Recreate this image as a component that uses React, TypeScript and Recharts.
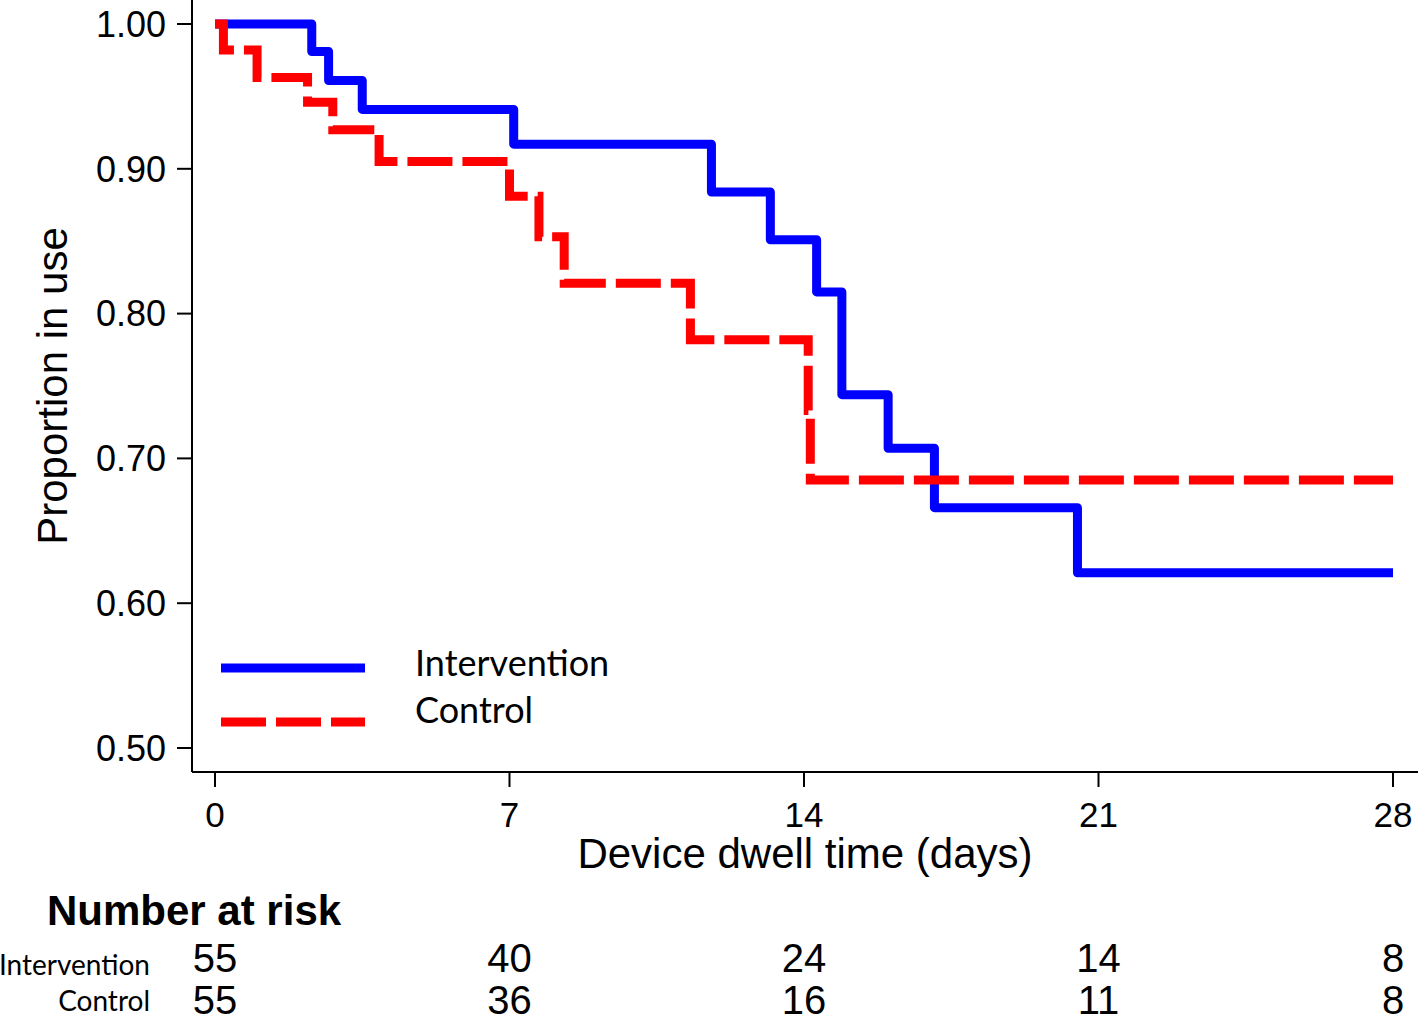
import { LineChart, Line, XAxis, YAxis } from 'recharts';

// Kaplan-Meier style step estimates
const interventionTimes = [0, 2.3, 2.7, 3.5, 7.1, 11.8, 13.2, 14.3, 14.9, 16.0, 17.1, 20.5, 28];
const interventionSurv = [1.0, 0.981, 0.961, 0.941, 0.917, 0.884, 0.851, 0.815, 0.744, 0.707, 0.666, 0.621, 0.621];

const controlTimes = [0, 0.2, 1.0, 2.2, 2.8, 3.9, 7.0, 7.7, 8.3, 11.3, 14.1, 14.15, 28];
const controlSurv = [1.0, 0.982, 0.963, 0.946, 0.927, 0.905, 0.881, 0.853, 0.821, 0.782, 0.733, 0.685, 0.685];

const xTicks = [0, 7, 14, 21, 28];
const yTicks = [0.5, 0.6, 0.7, 0.8, 0.9, 1.0];

const interventionAtRisk = [55, 40, 24, 14, 8];
const controlAtRisk = [55, 36, 16, 11, 8];

const seriesNames = ['Intervention', 'Control'];
const seriesColors = ['#0000FF', '#FF0000'];
const seriesDashes = ['', '45 10'];

const interventionData = interventionTimes.map((t, i) => ({ t, s: interventionSurv[i] }));
const controlData = controlTimes.map((t, i) => ({ t, s: controlSurv[i] }));

const ARIAL = '"Liberation Sans", Arial, sans-serif';
const CALIBRI = 'Lato, "Open Sans", sans-serif';

const XTick = (props: any) => {
  const { x, y, payload } = props;
  const idx = xTicks.indexOf(payload.value);
  return (
    <g fontFamily={ARIAL} fill="#000">
      <text x={x} y={y + 40} textAnchor="middle" fontSize={35}>{payload.value}</text>
      <text x={x} y={y + 185} textAnchor="middle" fontSize={40}>{interventionAtRisk[idx]}</text>
      <text x={x} y={y + 227} textAnchor="middle" fontSize={40}>{controlAtRisk[idx]}</text>
    </g>
  );
};

export default function App() {
  return (
    <div style={{ position: 'absolute', left: 0, top: 0, width: 1418, height: 1020, background: '#fff' }}>
      <LineChart width={1418} height={1020} margin={{ top: 0, right: 0, bottom: 0, left: 0 }}>
        <XAxis
          dataKey="t"
          type="number"
          domain={[0, 28]}
          ticks={xTicks}
          padding={{ left: 23, right: 25 }}
          height={248}
          stroke="#000"
          strokeWidth={2}
          tickSize={15}
          tickMargin={0}
          tick={<XTick />}
          interval={0}
          allowDataOverflow
        />
        <YAxis
          type="number"
          domain={[0.5, 1]}
          ticks={yTicks}
          padding={{ top: 24, bottom: 24 }}
          width={192}
          stroke="#000"
          strokeWidth={2}
          tickSize={15}
          tickMargin={11}
          tickFormatter={(v: number) => v.toFixed(2)}
          tick={{ fill: '#000', fontSize: 36, fontFamily: ARIAL }}
          interval={0}
        />
        <Line
          data={interventionData}
          dataKey="s"
          name={seriesNames[0]}
          type="stepAfter"
          stroke={seriesColors[0]}
          strokeWidth={9}
          strokeLinejoin="round"
          strokeLinecap="round"
          dot={false}
          activeDot={false}
          isAnimationActive={false}
        />
        <Line
          data={controlData}
          dataKey="s"
          name={seriesNames[1]}
          type="stepAfter"
          stroke={seriesColors[1]}
          strokeWidth={9}
          strokeDasharray={seriesDashes[1]}
          dot={false}
          activeDot={false}
          isAnimationActive={false}
        />
      </LineChart>
      <svg width={1418} height={1020} style={{ position: 'absolute', left: 0, top: 0, pointerEvents: 'none' }}>
        {/* legend */}
        {seriesNames.map((name, i) => (
          <g key={name}>
            <line x1={221} x2={365} y1={668 + i * 54} y2={668 + i * 54} stroke={seriesColors[i]} strokeWidth={9}
              strokeDasharray={seriesDashes[i] || undefined} />
            <text x={415} y={676 + i * 47} fontSize={36} fontFamily={CALIBRI} fill="#000">{name}</text>
          </g>
        ))}
        <text x={805} y={868} textAnchor="middle" fontSize={42} fontFamily={ARIAL}>Device dwell time (days)</text>
        <text transform="translate(67,386) rotate(-90)" textAnchor="middle" fontSize={42} fontFamily={ARIAL}>Proportion in use</text>
        <text x={47} y={925} fontSize={42} fontWeight="bold" fontFamily={ARIAL}>Number at risk</text>
        <text x={150} y={975} textAnchor="end" fontSize={28} fontFamily={CALIBRI}>{seriesNames[0]}</text>
        <text x={150} y={1011} textAnchor="end" fontSize={28} fontFamily={CALIBRI}>{seriesNames[1]}</text>
      </svg>
    </div>
  );
}
